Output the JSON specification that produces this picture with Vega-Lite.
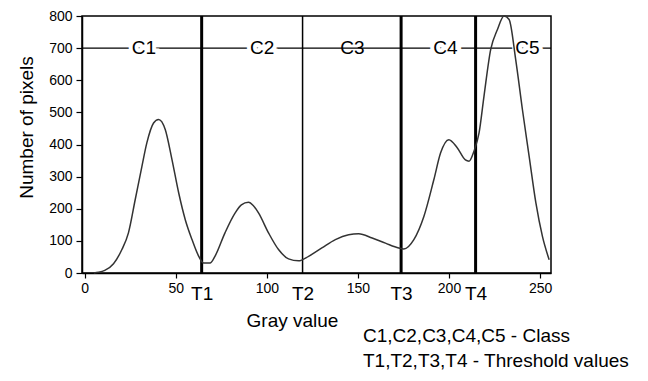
{
  "$schema": "https://vega.github.io/schema/vega-lite/v6.json",
  "width": 469,
  "height": 257,
  "autosize": "none",
  "padding": {"left": 82, "top": 16, "right": 97, "bottom": 108},
  "background": "white",
  "config": {
    "font": "Liberation Sans",
    "view": {"stroke": "black", "strokeWidth": 1.5},
    "axis": {"domainColor": "black", "domainWidth": 1.5, "tickColor": "black", "tickWidth": 1.2, "labelColor": "black", "titleColor": "black", "grid": false, "titleFontWeight": "normal", "labelFont": "Liberation Sans", "titleFont": "Liberation Sans"}
  },
  "title": {
    "text": ["C1,C2,C3,C4,C5 - Class", "T1,T2,T3,T4 - Threshold values"],
    "orient": "bottom",
    "anchor": "start",
    "frame": "group",
    "align": "left",
    "baseline": "top",
    "dx": 281,
    "offset": -3,
    "fontSize": 19,
    "fontWeight": "normal",
    "font": "Liberation Sans",
    "color": "black",
    "lineHeight": 25
  },
  "datasets": {
    "curve": [
      {"gray": 5, "count": 0}, {"gray": 7.5, "count": 2}, {"gray": 11, "count": 8}, {"gray": 15.8, "count": 29},
      {"gray": 20.4, "count": 73}, {"gray": 24, "count": 125}, {"gray": 27.7, "count": 228}, {"gray": 31.4, "count": 332},
      {"gray": 34.1, "count": 405}, {"gray": 37.8, "count": 467}, {"gray": 40.5, "count": 478}, {"gray": 44.2, "count": 447},
      {"gray": 47.9, "count": 353}, {"gray": 51.6, "count": 249}, {"gray": 55.2, "count": 166}, {"gray": 58.9, "count": 104},
      {"gray": 62.6, "count": 52}, {"gray": 65.3, "count": 31}, {"gray": 68.8, "count": 31}, {"gray": 71.5, "count": 52},
      {"gray": 77, "count": 125}, {"gray": 82.6, "count": 187}, {"gray": 86, "count": 212}, {"gray": 89.9, "count": 220},
      {"gray": 92.5, "count": 210}, {"gray": 95.4, "count": 187}, {"gray": 100.9, "count": 125}, {"gray": 106.4, "count": 73},
      {"gray": 111.9, "count": 44}, {"gray": 117.4, "count": 38}, {"gray": 122.9, "count": 52}, {"gray": 130.2, "count": 78},
      {"gray": 137.6, "count": 104}, {"gray": 144.9, "count": 119}, {"gray": 150.4, "count": 122}, {"gray": 157.8, "count": 109},
      {"gray": 165.1, "count": 93}, {"gray": 172.4, "count": 78}, {"gray": 175.2, "count": 75}, {"gray": 180.7, "count": 104},
      {"gray": 186.2, "count": 176}, {"gray": 191.7, "count": 291}, {"gray": 195.4, "count": 374}, {"gray": 199.9, "count": 415},
      {"gray": 204.5, "count": 390}, {"gray": 209, "count": 352}, {"gray": 211, "count": 348}, {"gray": 213.7, "count": 379},
      {"gray": 216.5, "count": 436}, {"gray": 219.2, "count": 550}, {"gray": 222.9, "count": 696}, {"gray": 226.6, "count": 758},
      {"gray": 230.2, "count": 800}, {"gray": 233, "count": 789}, {"gray": 236.6, "count": 665}, {"gray": 240.3, "count": 509},
      {"gray": 244, "count": 363}, {"gray": 247.7, "count": 218}, {"gray": 251.3, "count": 114}, {"gray": 255, "count": 41}
    ],
    "thresholds": [
      {"name": "T1", "gray": 64.2}, {"name": "T2", "gray": 119.6}, {"name": "T3", "gray": 173.7}, {"name": "T4", "gray": 214.6}
    ],
    "classes": [
      {"name": "C1", "gray": 32.5, "count": 700}, {"name": "C2", "gray": 97.4, "count": 700}, {"name": "C3", "gray": 147, "count": 700},
      {"name": "C4", "gray": 198, "count": 700}, {"name": "C5", "gray": 243, "count": 700}
    ]
  },
  "encoding": {
    "y": {"field": "count", "type": "quantitative", "scale": {"domain": [0, 800], "nice": false, "zero": true},
      "axis": {"values": [0, 100, 200, 300, 400, 500, 600, 700, 800], "labelOverlap": false, "labelBound": false, "title": "Number of pixels", "titleFontSize": 19, "labelFontSize": 14, "tickSize": 6, "labelPadding": 4, "titlePadding": 12, "titleY": 111}},
    "x": {"field": "gray", "type": "quantitative", "scale": {"domain": [-1.5, 256], "nice": false, "zero": false},
      "axis": {
        "values": [0, 50, 64.2, 100, 119.6, 150, 173.7, 200, 214.6, 250],
        "labelExpr": "datum.value == 64.2 ? 'T1' : datum.value == 119.6 ? 'T2' : datum.value == 173.7 ? 'T3' : datum.value == 214.6 ? 'T4' : datum.label",
        "labelOverlap": false,
        "labelBound": false,
        "labelFontSize": {"condition": {"test": "indexof([64.2, 119.6, 173.7, 214.6], datum.value) >= 0", "value": 19}, "value": 14},
        "labelPadding": {"condition": {"test": "indexof([64.2, 119.6, 173.7, 214.6], datum.value) >= 0", "value": 11}, "value": 3},
        "tickSize": {"condition": {"test": "indexof([64.2, 119.6, 173.7, 214.6], datum.value) >= 0", "value": 0}, "value": 5},
        "title": "Gray value", "titleFontSize": 19, "titlePadding": 8, "titleX": 210
      }}
  },
  "layer": [
    {
      "data": {"name": "classes"},
      "transform": [{"filter": "datum.name == 'C1'"}],
      "mark": {"type": "rule", "color": "black", "strokeWidth": 1.3},
      "encoding": {"x": null}
    },
    {
      "data": {"name": "classes"},
      "transform": [{"filter": "datum.name != 'C3'"}],
      "mark": {"type": "text", "fontSize": 19, "font": "Liberation Sans", "stroke": "white", "strokeWidth": 8, "fill": "white", "baseline": "middle"},
      "encoding": {"text": {"field": "name"}}
    },
    {
      "data": {"name": "thresholds"},
      "mark": {"type": "rule", "color": "black"},
      "encoding": {
        "y": null,
        "strokeWidth": {"condition": {"test": "datum.name == 'T2'", "value": 1.5}, "value": 3}
      }
    },
    {
      "data": {"name": "classes"},
      "mark": {"type": "text", "fontSize": 19, "font": "Liberation Sans", "color": "black", "baseline": "middle"},
      "encoding": {"text": {"field": "name"}}
    },
    {
      "data": {"name": "curve"},
      "mark": {"type": "line", "color": "#333333", "strokeWidth": 1.5, "interpolate": "monotone"}
    }
  ]
}
